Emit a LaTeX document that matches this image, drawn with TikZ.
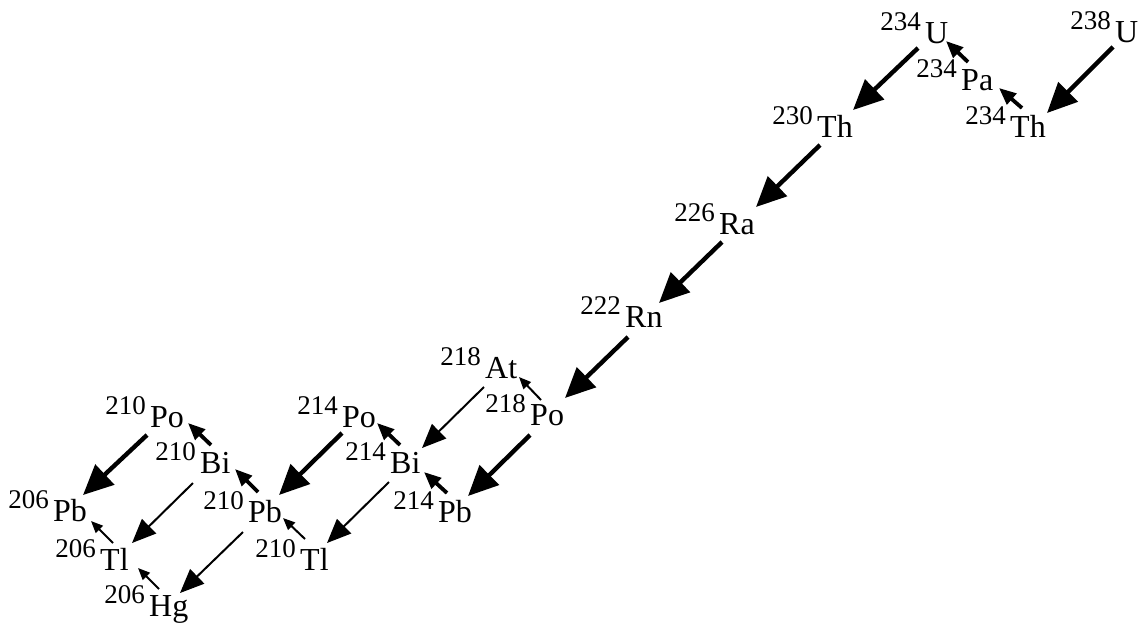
\documentclass[tikz,border=0pt]{standalone}
\usepackage{fontspec}
\setmainfont{Liberation Serif}
\usetikzlibrary{arrows.meta}
\tikzset{
  sym/.style={anchor=base west, inner sep=0pt, font=\fontsize{32pt}{37pt}\selectfont},
  mass/.style={anchor=base east, inner sep=0pt, font=\fontsize{27pt}{31pt}\selectfont},
  alph/.style={line width=4.4pt, -{Triangle[length=30pt,width=27pt]}},
  alphthin/.style={line width=2pt, -{Triangle[length=24pt,width=20pt]}},
  bet/.style={line width=3.8pt, -{Triangle[length=17pt,width=14pt]}},
  betthin/.style={line width=2pt, -{Triangle[length=12pt,width=10pt]}}
}
\newcommand{\Nuc}[4]{\node[sym] (#1) at (#2) {#4};
  \node[mass] (#1m) at ([shift={(-4,-13)}]#1.base west) {#3};}
\begin{document}
\begin{tikzpicture}[x=1pt,y=-1pt]
\useasboundingbox (0,0) rectangle (1139,625);
\Nuc{u238}{1115,42}{238}{U}
\Nuc{th234}{1010,137}{234}{Th}
\Nuc{pa234}{961,90}{234}{Pa}
\Nuc{u234}{925,43}{234}{U}
\Nuc{th230}{817,137}{230}{Th}
\Nuc{ra226}{719,234}{226}{Ra}
\Nuc{rn222}{625,327}{222}{Rn}
\Nuc{po218}{530,425}{218}{Po}
\Nuc{at218}{485,378}{218}{At}
\Nuc{pb214}{438,522}{214}{Pb}
\Nuc{bi214}{390,473}{214}{Bi}
\Nuc{po214}{342,427}{214}{Po}
\Nuc{tl210}{300,570}{210}{Tl}
\Nuc{pb210}{248,522}{210}{Pb}
\Nuc{bi210}{200,473}{210}{Bi}
\Nuc{po210}{150,427}{210}{Po}
\Nuc{hg206}{149,616}{206}{Hg}
\Nuc{tl206}{100,570}{206}{Tl}
\Nuc{pb206}{53,521}{206}{Pb}
% alpha decays
\draw[alph] ([shift={(-2,5)}]u238.base west) -- ([shift={(37,-24)}]th234.base west);
\draw[alph] ([shift={(-7,5)}]u234.base west) -- ([shift={(36,-27)}]th230.base west);
\draw[alph] ([shift={(3,8)}]th230.base west) -- ([shift={(37,-27)}]ra226.base west);
\draw[alph] ([shift={(3,8)}]ra226.base west) -- ([shift={(34,-24)}]rn222.base west);
\draw[alph] ([shift={(3,10)}]rn222.base west) -- ([shift={(35,-27)}]po218.base west);
\draw[alph] ([shift={(0,10)}]po218.base west) -- ([shift={(30,-26)}]pb214.base west);
\draw[alph] ([shift={(0,6)}]po214.base west) -- ([shift={(31,-27)}]pb210.base west);
\draw[alph] ([shift={(-3,8)}]po210.base west) -- ([shift={(30,-26)}]pb206.base west);
\draw[alphthin] ([shift={(-1,9)}]at218.base west) -- ([shift={(32,-25)}]bi214.base west);
\draw[alphthin] ([shift={(-1,9)}]bi214.base west) -- ([shift={(27,-27)}]tl210.base west);
\draw[alphthin] ([shift={(-7,10)}]bi210.base west) -- ([shift={(32,-27)}]tl206.base west);
\draw[alphthin] ([shift={(-5,10)}]pb210.base west) -- ([shift={(31,-23)}]hg206.base west);
% beta decays
\draw[bet] ([shift={(12,-29)}]th234.base west) -- ([shift={(38,-2)}]pa234.base west);
\draw[bet] ([shift={(7,-28)}]pa234.base west) -- ([shift={(21,-2)}]u234.base west);
\draw[bet] ([shift={(9,-29)}]pb214.base west) -- ([shift={(34,-1)}]bi214.base west);
\draw[bet] ([shift={(10,-28)}]bi214.base west) -- ([shift={(35,-4)}]po214.base west);
\draw[bet] ([shift={(10,-30)}]pb210.base west) -- ([shift={(35,-4)}]bi210.base west);
\draw[bet] ([shift={(11,-28)}]bi210.base west) -- ([shift={(38,-4)}]po210.base west);
\draw[betthin] ([shift={(11,-25)}]po218.base west) -- ([shift={(34,-1)}]at218.base west);
\draw[betthin] ([shift={(5,-31)}]tl210.base west) -- ([shift={(35,-4)}]pb210.base west);
\draw[betthin] ([shift={(13,-27)}]tl206.base west) -- ([shift={(38,0)}]pb206.base west);
\draw[betthin] ([shift={(10,-27)}]hg206.base west) -- ([shift={(38,-2)}]tl206.base west);
\end{tikzpicture}
\end{document}
